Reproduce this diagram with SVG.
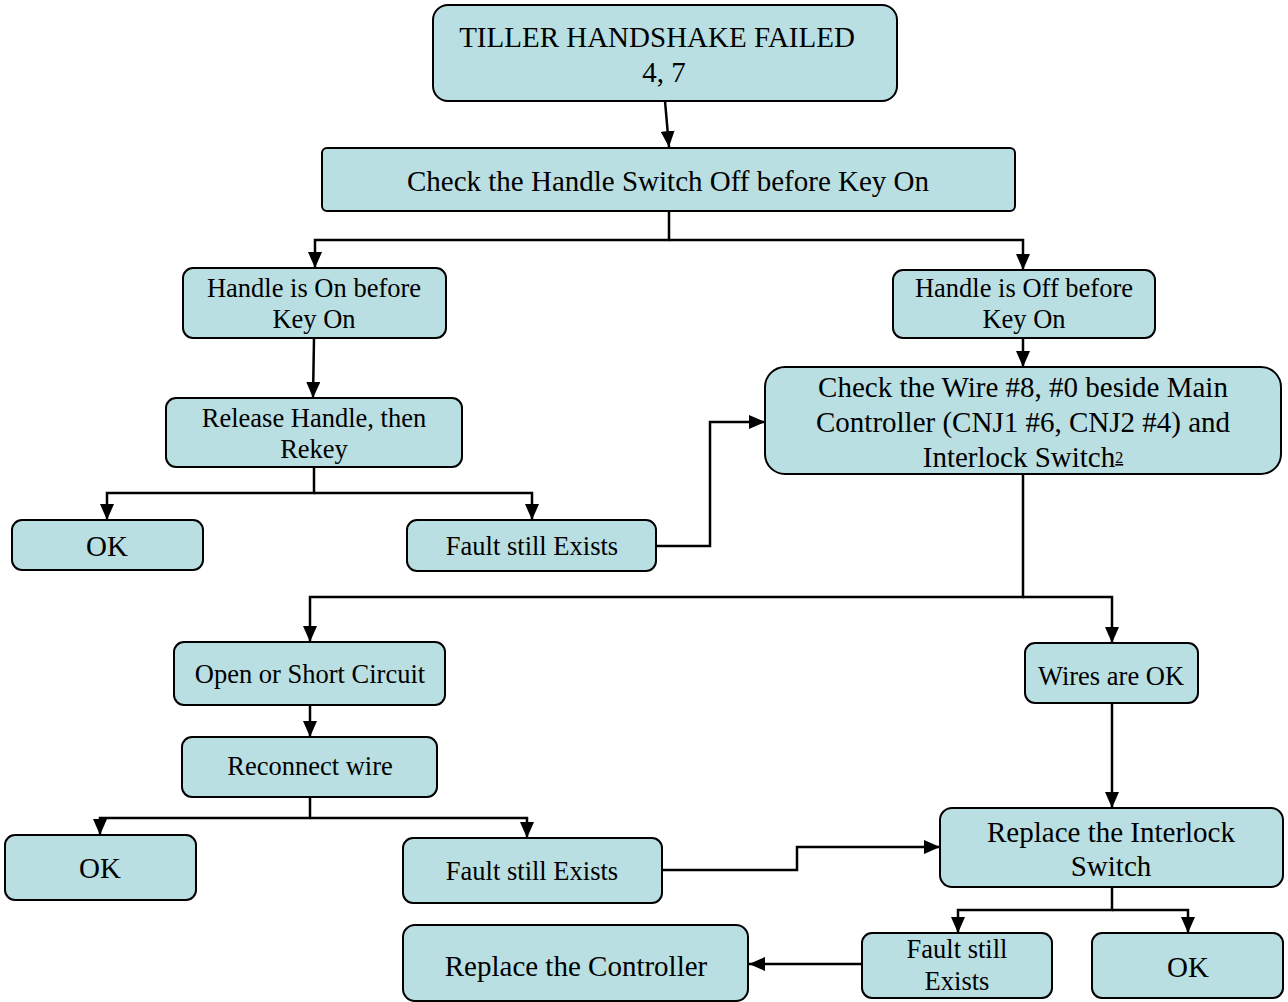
<svg xmlns="http://www.w3.org/2000/svg" width="1288" height="1002" viewBox="0 0 1288 1002">
  <style>
    .box { fill: #b9dfe2; stroke: #000; stroke-width: 2; }
    .t { font-family: "Liberation Serif", "Times New Roman", serif; fill: #000; text-anchor: middle; }
    .sm { font-size: 26.5px; }
    .lg { font-size: 29px; }
    .wire { fill: none; stroke: #000; stroke-width: 2.5; marker-end: url(#arrow); }
  </style>
  <defs>
    <marker id="arrow" markerUnits="userSpaceOnUse" markerWidth="16" markerHeight="14" viewBox="0 0 16 14" refX="16" refY="7" orient="auto">
      <path d="M0,0 L16,7 L0,14 Z" fill="#000"/>
    </marker>
  </defs>
  <rect width="1288" height="1002" fill="#fff"/>

  <!-- connectors -->
  <g id="connectors">
    <path class="wire" d="M665,101 L669,147"/>
    <path class="wire" d="M669,211 L669,240 L315,240 L315,268"/>
    <path class="wire" d="M669,240 L1023,240 L1023,270"/>
    <path class="wire" d="M314,338 L313,398"/>
    <path class="wire" d="M314,467 L314,493 L107,493 L107,520"/>
    <path class="wire" d="M314,493 L532,493 L532,520"/>
    <path class="wire" d="M656,546 L710,546 L710,422 L765,422"/>
    <path class="wire" d="M1023,338 L1023,367"/>
    <path class="wire" d="M1023,474 L1023,597 L310,597 L310,642"/>
    <path class="wire" d="M1023,597 L1112,597 L1112,643"/>
    <path class="wire" d="M310,705 L310,737"/>
    <path class="wire" d="M310,797 L310,818 L100,818 L100,835"/>
    <path class="wire" d="M310,818 L527,818 L527,838"/>
    <path class="wire" d="M662,870 L797,870 L797,847 L940,847"/>
    <path class="wire" d="M1112,703 L1112,808"/>
    <path class="wire" d="M1112,887 L1112,910 L958,910 L958,933"/>
    <path class="wire" d="M1112,910 L1188,910 L1188,933"/>
    <path class="wire" d="M862,964 L749,964"/>
  </g>

  <g id="n-title">
    <rect class="box" x="433" y="5" width="464" height="96" rx="15"/>
    <text class="t lg" x="657" y="47">TILLER HANDSHAKE FAILED</text>
    <text class="t lg" x="664" y="82">4, 7</text>
  </g>
  <g id="n-check-handle">
    <rect class="box" x="322" y="148" width="693" height="63" rx="5"/>
    <text class="t lg" x="668" y="191">Check the Handle Switch Off before Key On</text>
  </g>
  <g id="n-handle-on">
    <rect class="box" x="183" y="268" width="263" height="70" rx="10"/>
    <text class="t sm" x="314" y="297">Handle is On before</text>
    <text class="t sm" x="314" y="328">Key On</text>
  </g>
  <g id="n-handle-off">
    <rect class="box" x="893" y="270" width="262" height="68" rx="10"/>
    <text class="t sm" x="1024" y="297">Handle is Off before</text>
    <text class="t sm" x="1024" y="328">Key On</text>
  </g>
  <g id="n-release">
    <rect class="box" x="166" y="398" width="296" height="69" rx="10"/>
    <text class="t sm" x="314" y="427">Release Handle, then</text>
    <text class="t sm" x="314" y="458">Rekey</text>
  </g>
  <g id="n-check-wire">
    <rect class="box" x="765" y="367" width="516" height="107" rx="20"/>
    <text class="t lg" x="1023" y="397">Check the Wire #8, #0 beside Main</text>
    <text class="t lg" x="1023" y="432">Controller (CNJ1 #6, CNJ2 #4) and</text>
    <text class="t lg" x="1023" y="467">Interlock Switch<tspan font-size="16" dy="-4" text-decoration="underline">2</tspan></text>
  </g>
  <g id="n-ok-1">
    <rect class="box" x="12" y="520" width="191" height="50" rx="10"/>
    <text class="t lg" x="107" y="556">OK</text>
  </g>
  <g id="n-fault-1">
    <rect class="box" x="407" y="520" width="249" height="51" rx="10"/>
    <text class="t sm" x="532" y="555">Fault still Exists</text>
  </g>
  <g id="n-open-short">
    <rect class="box" x="174" y="642" width="271" height="63" rx="10"/>
    <text class="t sm" x="310" y="683">Open or Short Circuit</text>
  </g>
  <g id="n-wires-ok">
    <rect class="box" x="1025" y="643" width="173" height="60" rx="10"/>
    <text class="t sm" x="1111" y="685">Wires are OK</text>
  </g>
  <g id="n-reconnect">
    <rect class="box" x="182" y="737" width="255" height="60" rx="10"/>
    <text class="t sm" x="310" y="775">Reconnect wire</text>
  </g>
  <g id="n-ok-2">
    <rect class="box" x="5" y="835" width="191" height="65" rx="10"/>
    <text class="t lg" x="100" y="878">OK</text>
  </g>
  <g id="n-fault-2">
    <rect class="box" x="403" y="838" width="259" height="65" rx="10"/>
    <text class="t sm" x="532" y="880">Fault still Exists</text>
  </g>
  <g id="n-replace-interlock">
    <rect class="box" x="940" y="808" width="343" height="79" rx="12"/>
    <text class="t lg" x="1111" y="842">Replace the Interlock</text>
    <text class="t lg" x="1111" y="876">Switch</text>
  </g>
  <g id="n-fault-3">
    <rect class="box" x="862" y="933" width="190" height="65" rx="10"/>
    <text class="t sm" x="957" y="958">Fault still</text>
    <text class="t sm" x="957" y="990">Exists</text>
  </g>
  <g id="n-ok-3">
    <rect class="box" x="1092" y="933" width="191" height="65" rx="10"/>
    <text class="t lg" x="1188" y="977">OK</text>
  </g>
  <g id="n-replace-controller">
    <rect class="box" x="403" y="925" width="345" height="76" rx="12"/>
    <text class="t lg" x="576" y="976">Replace the Controller</text>
  </g>
</svg>
